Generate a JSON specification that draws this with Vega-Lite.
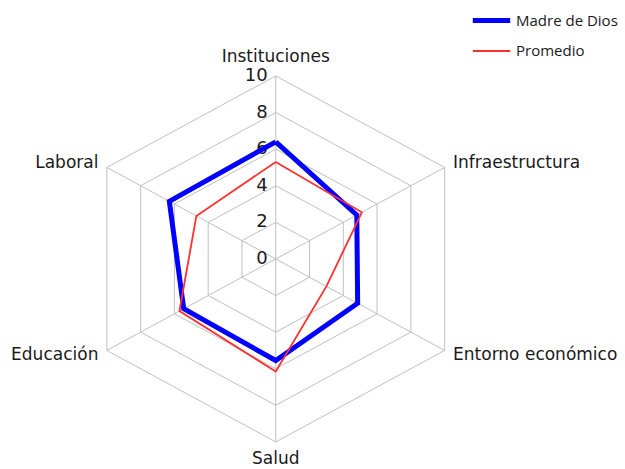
{
  "$schema": "https://vega.github.io/schema/vega-lite/v6.json",
  "width": 625,
  "height": 469,
  "autosize": "none",
  "padding": 0,
  "background": "white",
  "config": {"view": {"stroke": null}, "font": "DejaVu Sans"},
  "datasets": {
    "series": [
      {"series": "Madre de Dios", "axis": "Instituciones", "k": 0, "v": 6.4},
      {"series": "Madre de Dios", "axis": "Infraestructura", "k": 1, "v": 4.8},
      {"series": "Madre de Dios", "axis": "Entorno económico", "k": 2, "v": 4.85},
      {"series": "Madre de Dios", "axis": "Salud", "k": 3, "v": 5.55},
      {"series": "Madre de Dios", "axis": "Educación", "k": 4, "v": 5.45},
      {"series": "Madre de Dios", "axis": "Laboral", "k": 5, "v": 6.3},
      {"series": "Madre de Dios", "axis": "Instituciones", "k": 6, "v": 6.4},
      {"series": "Promedio", "axis": "Instituciones", "k": 0, "v": 5.3},
      {"series": "Promedio", "axis": "Infraestructura", "k": 1, "v": 5.1},
      {"series": "Promedio", "axis": "Entorno económico", "k": 2, "v": 3.0},
      {"series": "Promedio", "axis": "Salud", "k": 3, "v": 6.15},
      {"series": "Promedio", "axis": "Educación", "k": 4, "v": 5.7},
      {"series": "Promedio", "axis": "Laboral", "k": 5, "v": 4.7},
      {"series": "Promedio", "axis": "Instituciones", "k": 6, "v": 5.3}
    ],
    "rings": [
      {"level": 2, "k": 0}, {"level": 2, "k": 1}, {"level": 2, "k": 2}, {"level": 2, "k": 3}, {"level": 2, "k": 4}, {"level": 2, "k": 5}, {"level": 2, "k": 6},
      {"level": 4, "k": 0}, {"level": 4, "k": 1}, {"level": 4, "k": 2}, {"level": 4, "k": 3}, {"level": 4, "k": 4}, {"level": 4, "k": 5}, {"level": 4, "k": 6},
      {"level": 6, "k": 0}, {"level": 6, "k": 1}, {"level": 6, "k": 2}, {"level": 6, "k": 3}, {"level": 6, "k": 4}, {"level": 6, "k": 5}, {"level": 6, "k": 6},
      {"level": 8, "k": 0}, {"level": 8, "k": 1}, {"level": 8, "k": 2}, {"level": 8, "k": 3}, {"level": 8, "k": 4}, {"level": 8, "k": 5}, {"level": 8, "k": 6},
      {"level": 10, "k": 0}, {"level": 10, "k": 1}, {"level": 10, "k": 2}, {"level": 10, "k": 3}, {"level": 10, "k": 4}, {"level": 10, "k": 5}, {"level": 10, "k": 6}
    ],
    "axes": [
      {"axis": "Instituciones", "k": 0, "side": "top"},
      {"axis": "Infraestructura", "k": 1, "side": "right"},
      {"axis": "Entorno económico", "k": 2, "side": "right"},
      {"axis": "Salud", "k": 3, "side": "bottom"},
      {"axis": "Educación", "k": 4, "side": "left"},
      {"axis": "Laboral", "k": 5, "side": "left"}
    ],
    "ticks": [
      {"t": "0", "level": 0}, {"t": "2", "level": 2}, {"t": "4", "level": 4},
      {"t": "6", "level": 6}, {"t": "8", "level": 8}, {"t": "10", "level": 10}
    ]
  },
  "layer": [
    {
      "data": {"name": "rings"},
      "transform": [
        {"calculate": "datum.level*sin(datum.k*PI/3)", "as": "x"},
        {"calculate": "datum.level*cos(datum.k*PI/3)", "as": "y"}
      ],
      "mark": {"type": "line", "color": "#c0c0c0", "strokeWidth": 1},
      "encoding": {
        "x": {"field": "x", "type": "quantitative", "scale": {"domain": [-14.14, 17.91], "nice": false, "zero": false}, "axis": null},
        "y": {"field": "y", "type": "quantitative", "scale": {"domain": [-11.48, 14.15], "nice": false, "zero": false}, "axis": null},
        "detail": {"field": "level"},
        "order": {"field": "k"}
      }
    },
    {
      "data": {"name": "axes"},
      "transform": [
        {"calculate": "10*sin(datum.k*PI/3)", "as": "x"},
        {"calculate": "10*cos(datum.k*PI/3)", "as": "y"}
      ],
      "mark": {"type": "rule", "color": "#c0c0c0", "strokeWidth": 1},
      "encoding": {
        "x": {"field": "x", "type": "quantitative"},
        "y": {"field": "y", "type": "quantitative"},
        "x2": {"datum": 0},
        "y2": {"datum": 0}
      }
    },
    {
      "data": {"name": "ticks"},
      "mark": {"type": "text", "align": "right", "baseline": "middle", "dx": -8, "fontSize": 18, "color": "#1a1a1a"},
      "encoding": {
        "x": {"datum": 0, "type": "quantitative"},
        "y": {"field": "level", "type": "quantitative"},
        "text": {"field": "t"}
      }
    },
    {
      "data": {"name": "series"},
      "transform": [
        {"calculate": "datum.v*sin(datum.k*PI/3)", "as": "x"},
        {"calculate": "datum.v*cos(datum.k*PI/3)", "as": "y"}
      ],
      "mark": {"type": "line", "strokeJoin": "miter"},
      "encoding": {
        "x": {"field": "x", "type": "quantitative"},
        "y": {"field": "y", "type": "quantitative"},
        "order": {"field": "k"},
        "color": {
          "field": "series", "type": "nominal",
          "scale": {"domain": ["Madre de Dios", "Promedio"], "range": ["#0000ff", "#ff3030"]},
          "legend": {"title": null, "orient": "none", "legendX": 470, "legendY": -1, "symbolType": "stroke", "symbolSize": 1400, "labelFontSize": 15, "labelFont": "Open Sans", "labelColor": "#1a1a1a", "labelOffset": 3, "rowPadding": -10, "padding": 0}
        },
        "strokeWidth": {
          "field": "series", "type": "nominal",
          "scale": {"domain": ["Madre de Dios", "Promedio"], "range": [5, 1.8]},
          "legend": null
        }
      }
    },
    {
      "data": {"name": "axes"},
      "transform": [
        {"filter": "datum.side == 'top'"},
        {"calculate": "10.5*sin(datum.k*PI/3)", "as": "x"},
        {"calculate": "10.5*cos(datum.k*PI/3)", "as": "y"}
      ],
      "mark": {"type": "text", "align": "center", "baseline": "alphabetic", "dy": -5, "fontSize": 17, "color": "#1a1a1a"},
      "encoding": {"x": {"field": "x", "type": "quantitative"}, "y": {"field": "y", "type": "quantitative"}, "text": {"field": "axis"}}
    },
    {
      "data": {"name": "axes"},
      "transform": [
        {"filter": "datum.side == 'bottom'"},
        {"calculate": "10.5*sin(datum.k*PI/3)", "as": "x"},
        {"calculate": "10.5*cos(datum.k*PI/3)", "as": "y"}
      ],
      "mark": {"type": "text", "align": "center", "baseline": "top", "fontSize": 17, "color": "#1a1a1a"},
      "encoding": {"x": {"field": "x", "type": "quantitative"}, "y": {"field": "y", "type": "quantitative"}, "text": {"field": "axis"}}
    },
    {
      "data": {"name": "axes"},
      "transform": [
        {"filter": "datum.side == 'right'"},
        {"calculate": "10.5*sin(datum.k*PI/3)", "as": "x"},
        {"calculate": "10.5*cos(datum.k*PI/3)", "as": "y"}
      ],
      "mark": {"type": "text", "align": "left", "baseline": "middle", "fontSize": 17, "color": "#1a1a1a"},
      "encoding": {"x": {"field": "x", "type": "quantitative"}, "y": {"field": "y", "type": "quantitative"}, "text": {"field": "axis"}}
    },
    {
      "data": {"name": "axes"},
      "transform": [
        {"filter": "datum.side == 'left'"},
        {"calculate": "10.5*sin(datum.k*PI/3)", "as": "x"},
        {"calculate": "10.5*cos(datum.k*PI/3)", "as": "y"}
      ],
      "mark": {"type": "text", "align": "right", "baseline": "middle", "fontSize": 17, "color": "#1a1a1a"},
      "encoding": {"x": {"field": "x", "type": "quantitative"}, "y": {"field": "y", "type": "quantitative"}, "text": {"field": "axis"}}
    }
  ]
}
